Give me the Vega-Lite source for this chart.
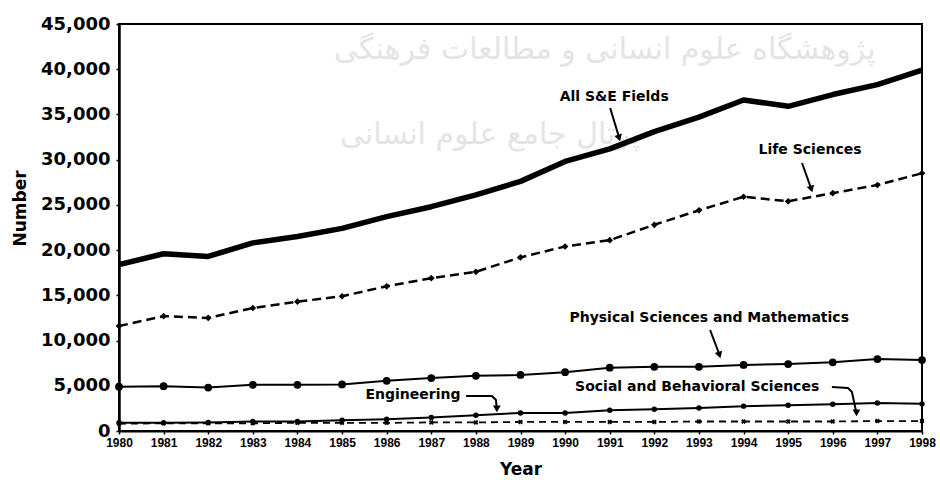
{
  "$schema": "https://vega.github.io/schema/vega-lite/v6.json",
  "width": 803,
  "height": 407,
  "autosize": {"type": "none"},
  "padding": {"left": 119, "top": 24, "right": 18, "bottom": 49},
  "background": "white",
  "config": {"view": {"stroke": "black", "strokeWidth": 2}, "font": "DejaVu Sans"},
  "datasets": {
    "series": [
      {"year": 1980, "series": "All S&E Fields", "value": 18400},
      {"year": 1981, "series": "All S&E Fields", "value": 19600},
      {"year": 1982, "series": "All S&E Fields", "value": 19300},
      {"year": 1983, "series": "All S&E Fields", "value": 20800},
      {"year": 1984, "series": "All S&E Fields", "value": 21500},
      {"year": 1985, "series": "All S&E Fields", "value": 22400},
      {"year": 1986, "series": "All S&E Fields", "value": 23700},
      {"year": 1987, "series": "All S&E Fields", "value": 24800},
      {"year": 1988, "series": "All S&E Fields", "value": 26100},
      {"year": 1989, "series": "All S&E Fields", "value": 27600},
      {"year": 1990, "series": "All S&E Fields", "value": 29800},
      {"year": 1991, "series": "All S&E Fields", "value": 31200},
      {"year": 1992, "series": "All S&E Fields", "value": 33100},
      {"year": 1993, "series": "All S&E Fields", "value": 34700},
      {"year": 1994, "series": "All S&E Fields", "value": 36600},
      {"year": 1995, "series": "All S&E Fields", "value": 35900},
      {"year": 1996, "series": "All S&E Fields", "value": 37200},
      {"year": 1997, "series": "All S&E Fields", "value": 38300},
      {"year": 1998, "series": "All S&E Fields", "value": 39900},
      {"year": 1980, "series": "Life Sciences", "value": 11600},
      {"year": 1981, "series": "Life Sciences", "value": 12700},
      {"year": 1982, "series": "Life Sciences", "value": 12500},
      {"year": 1983, "series": "Life Sciences", "value": 13600},
      {"year": 1984, "series": "Life Sciences", "value": 14300},
      {"year": 1985, "series": "Life Sciences", "value": 14900},
      {"year": 1986, "series": "Life Sciences", "value": 16000},
      {"year": 1987, "series": "Life Sciences", "value": 16900},
      {"year": 1988, "series": "Life Sciences", "value": 17600},
      {"year": 1989, "series": "Life Sciences", "value": 19200},
      {"year": 1990, "series": "Life Sciences", "value": 20400},
      {"year": 1991, "series": "Life Sciences", "value": 21100},
      {"year": 1992, "series": "Life Sciences", "value": 22800},
      {"year": 1993, "series": "Life Sciences", "value": 24400},
      {"year": 1994, "series": "Life Sciences", "value": 25900},
      {"year": 1995, "series": "Life Sciences", "value": 25400},
      {"year": 1996, "series": "Life Sciences", "value": 26300},
      {"year": 1997, "series": "Life Sciences", "value": 27200},
      {"year": 1998, "series": "Life Sciences", "value": 28500},
      {"year": 1980, "series": "Physical Sciences and Mathematics", "value": 4900},
      {"year": 1981, "series": "Physical Sciences and Mathematics", "value": 4950},
      {"year": 1982, "series": "Physical Sciences and Mathematics", "value": 4800},
      {"year": 1983, "series": "Physical Sciences and Mathematics", "value": 5100},
      {"year": 1984, "series": "Physical Sciences and Mathematics", "value": 5100},
      {"year": 1985, "series": "Physical Sciences and Mathematics", "value": 5150},
      {"year": 1986, "series": "Physical Sciences and Mathematics", "value": 5550},
      {"year": 1987, "series": "Physical Sciences and Mathematics", "value": 5850},
      {"year": 1988, "series": "Physical Sciences and Mathematics", "value": 6100},
      {"year": 1989, "series": "Physical Sciences and Mathematics", "value": 6200},
      {"year": 1990, "series": "Physical Sciences and Mathematics", "value": 6500},
      {"year": 1991, "series": "Physical Sciences and Mathematics", "value": 7000},
      {"year": 1992, "series": "Physical Sciences and Mathematics", "value": 7100},
      {"year": 1993, "series": "Physical Sciences and Mathematics", "value": 7100},
      {"year": 1994, "series": "Physical Sciences and Mathematics", "value": 7300},
      {"year": 1995, "series": "Physical Sciences and Mathematics", "value": 7400},
      {"year": 1996, "series": "Physical Sciences and Mathematics", "value": 7600},
      {"year": 1997, "series": "Physical Sciences and Mathematics", "value": 7950},
      {"year": 1998, "series": "Physical Sciences and Mathematics", "value": 7850},
      {"year": 1980, "series": "Engineering", "value": 900},
      {"year": 1981, "series": "Engineering", "value": 900},
      {"year": 1982, "series": "Engineering", "value": 950},
      {"year": 1983, "series": "Engineering", "value": 1050},
      {"year": 1984, "series": "Engineering", "value": 1050},
      {"year": 1985, "series": "Engineering", "value": 1200},
      {"year": 1986, "series": "Engineering", "value": 1300},
      {"year": 1987, "series": "Engineering", "value": 1500},
      {"year": 1988, "series": "Engineering", "value": 1750},
      {"year": 1989, "series": "Engineering", "value": 2000},
      {"year": 1990, "series": "Engineering", "value": 2000},
      {"year": 1991, "series": "Engineering", "value": 2300},
      {"year": 1992, "series": "Engineering", "value": 2400},
      {"year": 1993, "series": "Engineering", "value": 2550},
      {"year": 1994, "series": "Engineering", "value": 2750},
      {"year": 1995, "series": "Engineering", "value": 2850},
      {"year": 1996, "series": "Engineering", "value": 2950},
      {"year": 1997, "series": "Engineering", "value": 3100},
      {"year": 1998, "series": "Engineering", "value": 3000},
      {"year": 1980, "series": "Social and Behavioral Sciences", "value": 800},
      {"year": 1981, "series": "Social and Behavioral Sciences", "value": 850},
      {"year": 1982, "series": "Social and Behavioral Sciences", "value": 850},
      {"year": 1983, "series": "Social and Behavioral Sciences", "value": 850},
      {"year": 1984, "series": "Social and Behavioral Sciences", "value": 900},
      {"year": 1985, "series": "Social and Behavioral Sciences", "value": 900},
      {"year": 1986, "series": "Social and Behavioral Sciences", "value": 900},
      {"year": 1987, "series": "Social and Behavioral Sciences", "value": 950},
      {"year": 1988, "series": "Social and Behavioral Sciences", "value": 950},
      {"year": 1989, "series": "Social and Behavioral Sciences", "value": 1000},
      {"year": 1990, "series": "Social and Behavioral Sciences", "value": 1000},
      {"year": 1991, "series": "Social and Behavioral Sciences", "value": 1000},
      {"year": 1992, "series": "Social and Behavioral Sciences", "value": 1000},
      {"year": 1993, "series": "Social and Behavioral Sciences", "value": 1050},
      {"year": 1994, "series": "Social and Behavioral Sciences", "value": 1050},
      {"year": 1995, "series": "Social and Behavioral Sciences", "value": 1050},
      {"year": 1996, "series": "Social and Behavioral Sciences", "value": 1050},
      {"year": 1997, "series": "Social and Behavioral Sciences", "value": 1100},
      {"year": 1998, "series": "Social and Behavioral Sciences", "value": 1100}
    ],
    "labels": [
      {"label": "All S&E Fields", "year": 1991.1, "value": 36930},
      {"label": "Life Sciences", "year": 1995.49, "value": 31070},
      {"label": "Physical Sciences and Mathematics", "year": 1993.23, "value": 12490},
      {"label": "Social and Behavioral Sciences", "year": 1992.96, "value": 4865},
      {"label": "Engineering", "year": 1986.59, "value": 3980}
    ],
    "watermark": [
      {"label": "پژوهشگاه علوم انسانی و مطالعات فرهنگی", "year": 1990.89, "value": 42100},
      {"label": "پرتال جامع علوم انسانی", "year": 1988.32, "value": 32700}
    ],
    "arrows": [
      {"arrow": "a", "seq": 1, "year": 1991.01, "value": 35714},
      {"arrow": "a", "seq": 2, "year": 1991.22, "value": 32300},
      {"arrow": "b", "seq": 1, "year": 1995.31, "value": 29633},
      {"arrow": "b", "seq": 2, "year": 1995.53, "value": 26600},
      {"arrow": "c", "seq": 1, "year": 1993.25, "value": 11168},
      {"arrow": "c", "seq": 2, "year": 1993.47, "value": 8300},
      {"arrow": "d", "seq": 1, "year": 1987.78, "value": 3870},
      {"arrow": "d", "seq": 2, "year": 1988.36, "value": 3870},
      {"arrow": "d", "seq": 3, "year": 1988.45, "value": 3428},
      {"arrow": "d", "seq": 4, "year": 1988.47, "value": 2300},
      {"arrow": "e", "seq": 1, "year": 1995.98, "value": 4865},
      {"arrow": "e", "seq": 2, "year": 1996.34, "value": 4755},
      {"arrow": "e", "seq": 3, "year": 1996.43, "value": 4312},
      {"arrow": "e", "seq": 4, "year": 1996.53, "value": 2000}
    ],
    "headsSlanted": [
      {"year": 1991.21, "value": 32400},
      {"year": 1995.52, "value": 26760},
      {"year": 1993.46, "value": 8403}
    ],
    "headsVertical": [
      {"year": 1988.47, "value": 2450},
      {"year": 1996.53, "value": 2000}
    ]
  },
  "encoding": {
    "x": {
      "field": "year",
      "type": "quantitative",
      "scale": {"domain": [1980, 1998], "nice": false, "zero": false},
      "axis": {
        "values": [1980, 1981, 1982, 1983, 1984, 1985, 1986, 1987, 1988, 1989, 1990, 1991, 1992, 1993, 1994, 1995, 1996, 1997, 1998],
        "format": "d",
        "title": "Year",
        "grid": false,
        "labelOverlap": false,
        "labelFlush": false,
        "labelFont": "Liberation Sans",
        "labelFontWeight": "bold",
        "labelFontSize": 12,
        "labelColor": "black",
        "labelPadding": 3,
        "tickSize": 3,
        "tickColor": "black",
        "tickWidth": 1.5,
        "domainColor": "black",
        "domainWidth": 2,
        "titleFont": "DejaVu Sans",
        "titleFontSize": 17,
        "titleFontWeight": "bold",
        "titleColor": "black",
        "titlePadding": 13
      }
    },
    "y": {
      "field": "value",
      "type": "quantitative",
      "scale": {"domain": [0, 45000], "nice": false},
      "axis": {
        "values": [0, 5000, 10000, 15000, 20000, 25000, 30000, 35000, 40000, 45000],
        "format": ",.0f",
        "title": "Number",
        "grid": false,
        "labelOverlap": false,
        "labelFlush": false,
        "labelFont": "DejaVu Sans",
        "labelFontWeight": "bold",
        "labelFontSize": 18,
        "labelColor": "black",
        "labelPadding": 6,
        "tickSize": 3,
        "tickColor": "black",
        "tickWidth": 1.5,
        "domainColor": "black",
        "domainWidth": 2.5,
        "titleFont": "DejaVu Sans",
        "titleFontSize": 17,
        "titleFontWeight": "bold",
        "titleColor": "black",
        "titleX": -99,
        "titleY": 184,
        "titleAngle": -90,
        "titleAlign": "center",
        "titleBaseline": "middle"
      }
    }
  },
  "layer": [
    {
      "data": {"name": "watermark"},
      "mark": {"type": "text", "font": "DejaVu Sans", "fontSize": 30, "color": "#e4e4e4", "align": "center", "baseline": "middle"},
      "encoding": {"text": {"field": "label"}}
    },
    {
      "data": {"name": "series"},
      "transform": [{"filter": "datum.series === 'Life Sciences'"}],
      "mark": {"type": "line", "color": "black", "strokeWidth": 2.5, "strokeDash": [9, 5], "point": {"shape": "diamond", "size": 45, "filled": true, "color": "black"}}
    },
    {
      "data": {"name": "series"},
      "transform": [{"filter": "datum.series === 'Social and Behavioral Sciences'"}],
      "mark": {"type": "line", "color": "black", "strokeWidth": 1.8, "strokeDash": [7, 5], "point": {"shape": "cross", "size": 25, "filled": true, "color": "black", "angle": 45}}
    },
    {
      "data": {"name": "series"},
      "transform": [{"filter": "datum.series === 'Engineering'"}],
      "mark": {"type": "line", "color": "black", "strokeWidth": 2, "point": {"shape": "circle", "size": 30, "filled": true, "color": "black"}}
    },
    {
      "data": {"name": "series"},
      "transform": [{"filter": "datum.series === 'Physical Sciences and Mathematics'"}],
      "mark": {"type": "line", "color": "black", "strokeWidth": 2, "point": {"shape": "circle", "size": 60, "filled": true, "color": "black"}}
    },
    {
      "data": {"name": "series"},
      "transform": [{"filter": "datum.series === 'All S&E Fields'"}],
      "mark": {"type": "line", "color": "black", "strokeWidth": 5.5, "strokeJoin": "round"}
    },
    {
      "data": {"name": "arrows"},
      "mark": {"type": "line", "color": "black", "strokeWidth": 2},
      "encoding": {"detail": {"field": "arrow"}, "order": {"field": "seq"}}
    },
    {
      "data": {"name": "headsSlanted"},
      "mark": {"type": "point", "shape": "triangle-down", "size": 60, "filled": true, "color": "black", "angle": 343, "opacity": 1}
    },
    {
      "data": {"name": "headsVertical"},
      "mark": {"type": "point", "shape": "triangle-down", "size": 60, "filled": true, "color": "black", "angle": 0, "opacity": 1}
    },
    {
      "data": {"name": "labels"},
      "mark": {"type": "text", "font": "DejaVu Sans", "fontWeight": "bold", "fontSize": 14, "color": "black", "align": "center", "baseline": "middle"},
      "encoding": {"text": {"field": "label"}}
    }
  ]
}
